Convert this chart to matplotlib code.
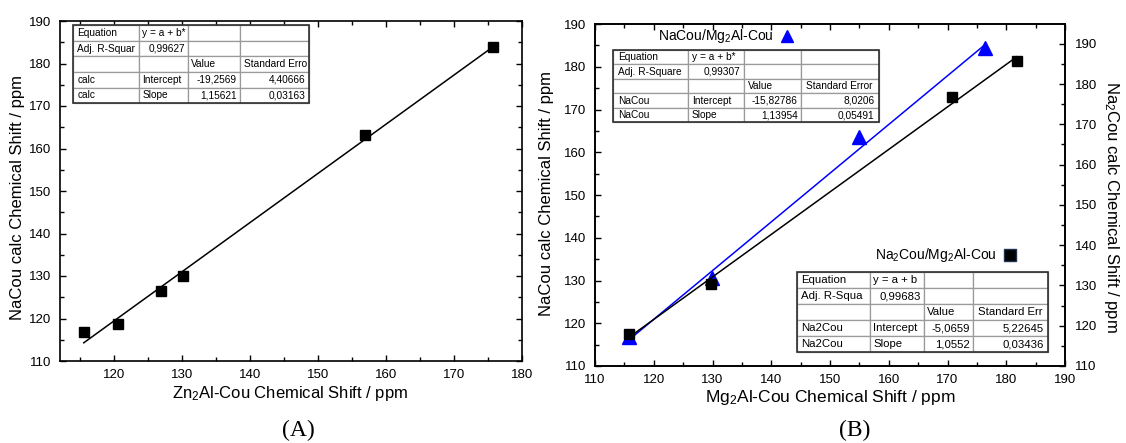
import matplotlib
matplotlib.use("Agg")
import matplotlib.pyplot as plt
from matplotlib.table import Table
from matplotlib.ticker import MultipleLocator

plt.rcParams['font.family'] = ['Liberation Sans', 'DejaVu Sans']
plt.rcParams['mathtext.fontset'] = 'custom'
plt.rcParams['mathtext.rm'] = 'Liberation Sans'
plt.rcParams['mathtext.it'] = 'Liberation Sans:italic'

# ---------------- data ----------------
# Panel A: Zn2Al-Cou vs NaCou calc
a_x = [115.5, 120.6, 126.9, 130.1, 156.9, 175.8]
a_y = [116.8, 118.8, 126.4, 130.0, 163.2, 183.9]
a_intercept, a_slope = -19.2569, 1.15621

# Panel B: Mg2Al-Cou vs NaCou calc (triangles, left axis)
b_x_nacou = [115.8, 129.9, 154.9, 176.3]
b_y_nacou = [116.8, 130.7, 163.6, 184.3]
b_intercept_nacou, b_slope_nacou = -15.82786, 1.13954

# Panel B: Mg2Al-Cou vs Na2Cou calc (squares, right axis)
b_x_na2cou = [115.8, 129.8, 170.8, 181.8]
b_y_na2cou = [117.9, 130.4, 176.8, 185.8]
b_intercept_na2cou, b_slope_na2cou = -5.0659, 1.0552

# Fit tables
table_a = [["Equation", "y = a + b*", "", ""],
           ["Adj. R-Squar", "0,99627", "", ""],
           ["", "", "Value", "Standard Erro"],
           ["calc", "Intercept", "-19,2569", "4,40666"],
           ["calc", "Slope", "1,15621", "0,03163"]]
table_b1 = [["Equation", "y = a + b*", "", ""],
            ["Adj. R-Square", "0,99307", "", ""],
            ["", "", "Value", "Standard Error"],
            ["NaCou", "Intercept", "-15,82786", "8,0206"],
            ["NaCou", "Slope", "1,13954", "0,05491"]]
table_b2 = [["Equation", "y = a + b", "", ""],
            ["Adj. R-Squa", "0,99683", "", ""],
            ["", "", "Value", "Standard Err"],
            ["Na2Cou", "Intercept", "-5,0659", "5,22645"],
            ["Na2Cou", "Slope", "1,0552", "0,03436"]]

BLUE = '#0000ff'
W, H = 1126, 443

fig = plt.figure(figsize=(W / 100, H / 100), dpi=100)


def style_ticks(ax, which_axis='both', **kw):
    ax.tick_params(axis=which_axis, which='both', direction='in', width=1.0,
                   labelsize=9.5, **kw)
    ax.tick_params(axis=which_axis, which='major', length=4.5)
    ax.tick_params(axis=which_axis, which='minor', length=2.8)
    for s in ax.spines.values():
        s.set_linewidth(1.2)


def set_locators(ax, step):
    ax.xaxis.set_major_locator(MultipleLocator(step))
    ax.xaxis.set_minor_locator(MultipleLocator(step / 2))
    ax.yaxis.set_major_locator(MultipleLocator(step))
    ax.yaxis.set_minor_locator(MultipleLocator(step / 2))


def add_fit_table(ax, rows, bbox, colw, fontsize):
    tb = Table(ax, bbox=bbox)
    nrows = len(rows)
    for r, row in enumerate(rows):
        for c, txt in enumerate(row):
            if c == 0:
                loc = 'left'
            elif c == 1:
                loc = 'right' if r == 1 else 'left'
            else:
                loc = 'right' if r >= 3 else 'left'
            cell = tb.add_cell(r, c, width=colw[c], height=1.0 / nrows,
                               text=txt, loc=loc, facecolor='white',
                               edgecolor='#9a9a9a')
            cell.PAD = 0.06
            cell.set_linewidth(0.9)
    tb.auto_set_font_size(False)
    tb.set_fontsize(fontsize)
    tb.set_zorder(5)
    ax.add_table(tb)
    x0, y0, w, h = bbox
    ax.add_patch(plt.Rectangle((x0, y0), w, h, transform=ax.transAxes,
                               fill=False, edgecolor='#303030', lw=1.2,
                               zorder=6))


# ---------------- Panel A ----------------
axA = fig.add_axes([60 / W, (H - 361) / H, 462 / W, 340 / H])
axA.plot(a_x, a_y, 's', color='black', ms=7.5, zorder=3)
fx = [min(a_x), max(a_x)]
axA.plot(fx, [a_intercept + a_slope * v for v in fx], '-', color='black',
         lw=1.1, zorder=2)
axA.set_xlim(112, 180)
axA.set_ylim(110, 190)
set_locators(axA, 10)
axA.set_xticks([120, 130, 140, 150, 160, 170, 180])
style_ticks(axA, top=True, right=True, pad=6)
xl = axA.set_xlabel(r'Zn$_\mathrm{2}$Al-Cou Chemical Shift / ppm', fontsize=12)
xl.set_va('center')
axA.xaxis.set_label_coords(0.497, -0.097)
yl = axA.set_ylabel('NaCou calc Chemical Shift / ppm', fontsize=12)
yl.set_va('center')
axA.yaxis.set_label_coords(-0.0926, 0.48)
add_fit_table(axA, table_a, [0.0288, 0.758, 0.5108, 0.230],
              [66, 49, 51.7, 69.3], 7.3)

# ---------------- Panel B ----------------
axB = fig.add_axes([595 / W, (H - 366) / H, 470 / W, 342 / H])
axB2 = axB.twinx()
axB.plot(b_x_nacou, b_y_nacou, '^', color=BLUE, ms=9.5, zorder=3)
fxb = [min(b_x_nacou), max(b_x_nacou)]
axB.plot(fxb, [b_intercept_nacou + b_slope_nacou * v for v in fxb], '-',
         color=BLUE, lw=1.1, zorder=2)
axB2.plot(b_x_na2cou, b_y_na2cou, 's', color='black', ms=7.5, zorder=3)
fxc = [min(b_x_na2cou), max(b_x_na2cou)]
axB2.plot(fxc, [b_intercept_na2cou + b_slope_na2cou * v for v in fxc], '-',
          color='black', lw=1.1, zorder=2)
axB.set_xlim(110, 190)
axB.set_ylim(110, 190)
axB2.set_ylim(110, 194.9)
set_locators(axB, 10)
axB2.yaxis.set_major_locator(MultipleLocator(10))
axB2.yaxis.set_minor_locator(MultipleLocator(5))
style_ticks(axB, top=True, right=False, pad=6)
style_ticks(axB2, which_axis='y', pad=7)
bxl = axB.set_xlabel(r'Mg$_\mathrm{2}$Al-Cou Chemical Shift / ppm',
                     fontsize=12.5)
bxl.set_va('center')
axB.xaxis.set_label_coords(0.5, -0.091)
byl = axB.set_ylabel('NaCou calc Chemical Shift / ppm', fontsize=12)
byl.set_va('center')
axB.yaxis.set_label_coords(-0.104, 0.505)
b2l = axB2.set_ylabel(r'Na$_\mathrm{2}$Cou calc Chemical Shift / ppm',
                      fontsize=12, rotation=-90)
b2l.set_va('center')
b2l.set_ha('center')
axB2.yaxis.set_label_coords(1.10, 0.465)

add_fit_table(axB, table_b1, [0.039, 0.7126, 0.566, 0.2114],
              [75, 55.7, 57, 78.3], 7.3)
axB.text(0.2574, 0.9635, r'NaCou/Mg$_\mathrm{2}$Al-Cou', transform=axB.transAxes,
         ha='center', va='center', fontsize=10)
axB.plot([0.408], [0.9635], '^', color=BLUE, ms=8, transform=axB.transAxes,
         clip_on=False, zorder=6)

add_fit_table(axB, table_b2, [0.429, 0.0398, 0.5355, 0.2342],
              [73.3, 54, 49.3, 75], 8.2)
axB.text(0.7251, 0.3246, r'Na$_\mathrm{2}$Cou/Mg$_\mathrm{2}$Al-Cou',
         transform=axB.transAxes, ha='center', va='center', fontsize=10)
axB.plot([0.883], [0.3246], 's', color='black', mec='#1f3050', ms=8,
         transform=axB.transAxes, clip_on=False, zorder=6)

fig.text(298 / W, 1 - 430 / H, '(A)', family='Liberation Serif',
         fontsize=17, ha='center', va='center')
fig.text(855 / W, 1 - 430 / H, '(B)', family='Liberation Serif',
         fontsize=17, ha='center', va='center')

fig.savefig('out.png', dpi=100)
